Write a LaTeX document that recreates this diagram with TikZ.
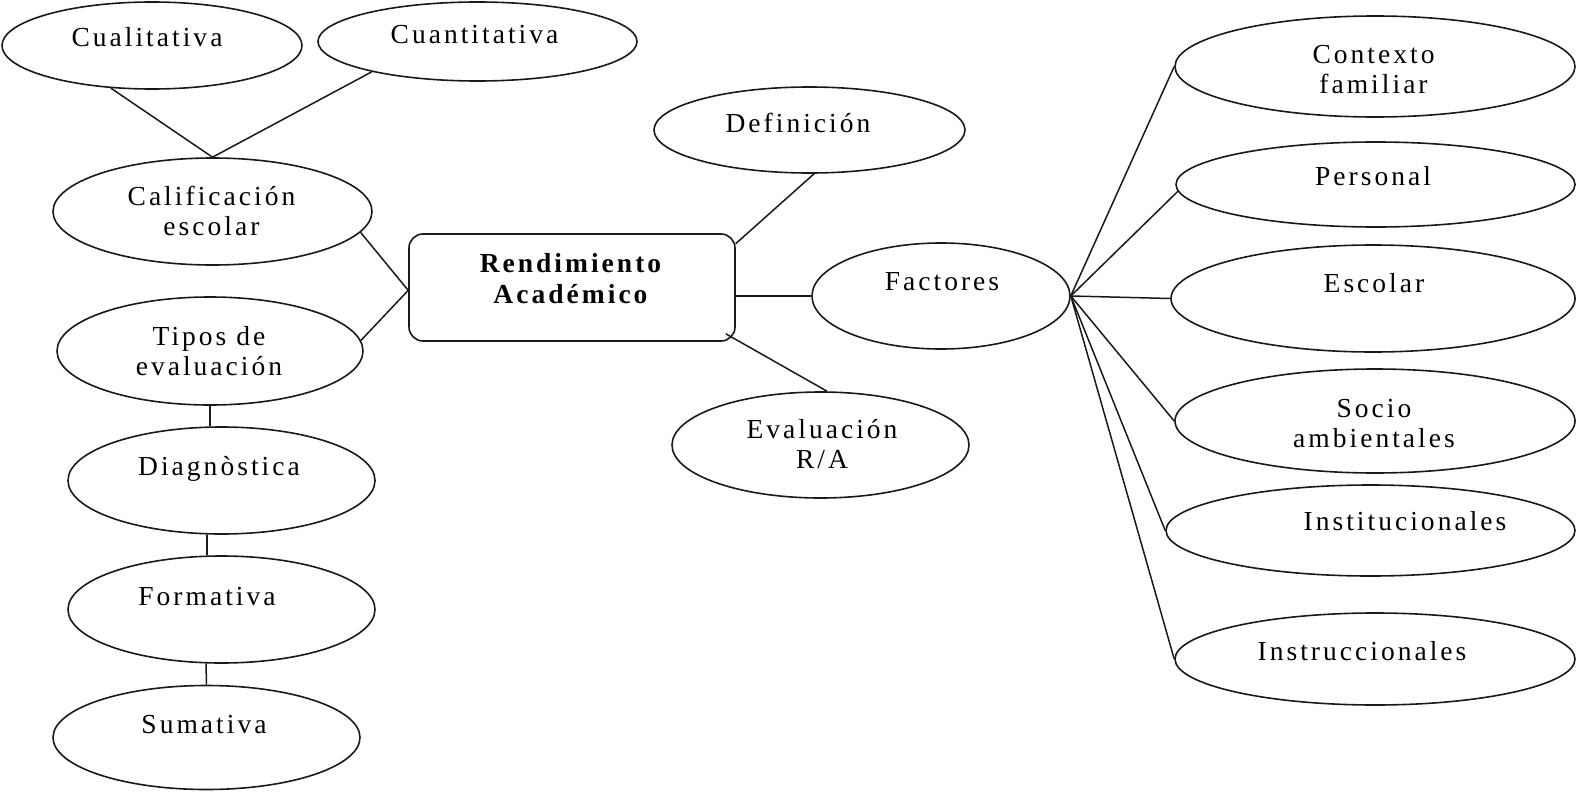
\documentclass[tikz,border=0pt]{standalone}
\usepackage{fontspec}
\setmainfont[LetterSpace=11]{Liberation Serif}
\usetikzlibrary{shapes.geometric,calc}
\begin{document}
\begin{tikzpicture}[x=1pt,y=-1pt,
 ell/.style={draw=black!90, ellipse, line width=1.6pt, inner sep=0pt},
 box/.style={draw=black!90, rectangle, rounded corners=14pt, line width=1.6pt, inner sep=0pt},
 txt/.style={anchor=base, inner sep=0pt, align=center, font=\fontsize{27.5}{30}\selectfont},
 boldtxt/.style={txt, font=\fontsize{27.5}{31}\selectfont\bfseries},
 link/.style={draw=black!90, line width=1.5pt}]
\useasboundingbox (0,0) rectangle (1577,792);
% shapes
\node[ell, minimum width=300, minimum height=87] (cual) at (152,45.5) {};
\node[ell, minimum width=319, minimum height=79] (cuan) at (477.5,41.5) {};
\node[ell, minimum width=319, minimum height=107] (calif) at (212.5,211.5) {};
\node[ell, minimum width=306, minimum height=108] (tipos) at (210,351) {};
\node[ell, minimum width=307, minimum height=107] (diag) at (221.5,480.5) {};
\node[ell, minimum width=307, minimum height=107] (form) at (221.5,609.5) {};
\node[ell, minimum width=307, minimum height=104] (sum) at (206.5,737.5) {};
\node[box, minimum width=326, minimum height=107] (rend) at (572,287.5) {};
\node[ell, minimum width=311, minimum height=86] (def) at (809.5,130) {};
\node[ell, minimum width=258, minimum height=106] (fact) at (941,296) {};
\node[ell, minimum width=297, minimum height=106] (eval) at (820.5,445) {};
\node[ell, minimum width=400, minimum height=101] (cont) at (1375,66.5) {};
\node[ell, minimum width=399, minimum height=85] (pers) at (1375.5,184.5) {};
\node[ell, minimum width=404, minimum height=107] (esc) at (1373,298.5) {};
\node[ell, minimum width=400, minimum height=104] (socio) at (1375,421) {};
\node[ell, minimum width=409, minimum height=91] (inst) at (1370.5,530.5) {};
\node[ell, minimum width=400, minimum height=92] (instr) at (1375,659) {};
% texts (anchor = baseline of last line)
\node[txt] (cual-t) at (147,47) {Cualitativa};
\node[txt] (cuan-t) at (474.5,44) {Cuantitativa};
\node[txt] (calif-t) at (211.5,235) {Calificación\\escolar};
\node[txt] (tipos-t) at (209,375) {Tipos de\\evaluación};
\node[txt] (diag-t) at (219,475) {Diagnòstica};
\node[txt] (form-t) at (207,605) {Formativa};
\node[txt] (sum-t) at (204,733) {Sumativa};
\node[boldtxt] (rend-t) at (570.5,303) {Rendimiento\\Académico};
\node[txt] (def-t) at (798,132) {Definición};
\node[txt] (fact-t) at (942,290) {Factores};
\node[txt] (eval-t) at (822,468) {Evaluación\\R/A};
\node[txt] (cont-t) at (1373.5,93) {Contexto\\familiar};
\node[txt] (pers-t) at (1373,185) {Personal};
\node[txt] (esc-t) at (1374,292) {Escolar};
\node[txt] (socio-t) at (1374,447) {Socio\\ambientales};
\node[txt] (inst-t) at (1405,530) {Institucionales};
\node[txt] (instr-t) at (1362,660) {Instruccionales};
% connectors
\draw[link] (cual.-134) -- (calif.north);
\draw[link] (cuan.-164) -- (calif.north);
\draw[link] (calif.-8.4) -- (rend.181);
\draw[link] (tipos.4) -- (rend.181);
\draw[link] (tipos.south) -- (tipos.south |- diag.north);
\draw[link] (diag.-105) -- (form.105);
\draw[link] (form.-106) -- (sum.north);
\draw[link] (rend.15.4) -- (def.-84);
\draw[link] (fact.west -| rend.east) -- (fact.west);
\draw[link] ($(rend.south east)+(-10,-8)$) -- (eval.83);
\draw[link] (fact.east) -- (cont.west);
\draw[link] (fact.east) -- (pers.182.5);
\draw[link] (fact.east) -- (esc.west);
\draw[link] (fact.east) -- (socio.west);
\draw[link] (fact.east) -- (inst.west);
\draw[link] (fact.east) -- (instr.west);
\end{tikzpicture}
\end{document}
